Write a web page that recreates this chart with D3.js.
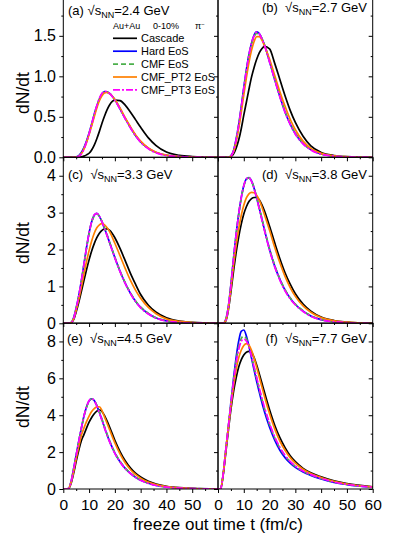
<!DOCTYPE html>
<html><head><meta charset="utf-8">
<script src="https://cdn.jsdelivr.net/npm/d3@7"></script>
<style>
body{margin:0;background:#fff;}
svg{display:block;font-family:"Liberation Sans",Arial,sans-serif;}
</style>
</head><body>
<svg id="chart" width="415" height="537"></svg>
<script>
// ---------------- DATA ----------------
const times = [0,1,2,3,4,5,6,7,8,9,10,11,12,13,14,15,16,17,18,20,22,24,26,28,30,33,36,40,45,50,60];
const seriesNames = ["Cascade","Hard EoS","CMF EoS","CMF_PT2 EoS","CMF_PT3 EoS"];
const panelTags = ["(a)","(b)","(c)","(d)","(e)","(f)"];
const energies = ["2.4","2.7","3.3","3.8","4.5","7.7"];
const xTickValues = [0,10,20,30,40,50,60];
const xMinorValues = [5,15,25,35,45,55];
const yTickRows = [[0,0.5,1,1.5],[0,1,2,3,4],[0,2,4,6,8]];
const yMinorRows = [[0.25,0.75,1.25,1.75],[0.5,1.5,2.5,3.5],[1,3,5,7]];
const yMaxRows = [2.05,4.5,9];

// one array per series, one sub-array per panel (a..f)
const cascade = [
 [0,0,0,0,0,0,0,0.005,0.015,0.03,0.05,0.09,0.15,0.23,0.32,0.42,0.51,0.59,0.65,0.705,0.70,0.645,0.56,0.465,0.37,0.24,0.145,0.065,0.025,0.01,0],
 [0,0,0,0,0,0.01,0.04,0.11,0.21,0.35,0.52,0.68,0.84,0.99,1.11,1.21,1.29,1.34,1.37,1.34,1.16,0.96,0.76,0.58,0.43,0.26,0.14,0.06,0.022,0.008,0],
 [0,0,0,0.01,0.10,0.31,0.57,0.86,1.16,1.45,1.72,1.96,2.16,2.32,2.44,2.52,2.56,2.56,2.52,2.32,2.03,1.70,1.36,1.06,0.78,0.49,0.30,0.15,0.06,0.025,0],
 [0,0,0,0.06,0.35,0.85,1.40,1.90,2.33,2.68,2.96,3.16,3.30,3.38,3.41,3.41,3.35,3.22,3.05,2.63,2.18,1.75,1.37,1.06,0.80,0.52,0.33,0.17,0.075,0.035,0],
 [0,0,0.01,0.30,0.85,1.50,2.10,2.62,2.95,3.30,3.62,3.88,4.08,4.22,4.29,4.20,3.98,3.68,3.35,2.64,2.03,1.53,1.15,0.86,0.65,0.42,0.27,0.15,0.07,0.032,0],
 [0,0,0.75,1.95,3.15,4.30,5.25,6.00,6.60,7.00,7.27,7.42,7.46,7.40,7.12,6.72,6.25,5.76,5.26,4.30,3.46,2.78,2.24,1.80,1.48,1.12,0.88,0.66,0.44,0.29,0.12]
];
const hardEoS = [
 [0,0,0,0,0,0.005,0.02,0.06,0.12,0.20,0.30,0.41,0.53,0.63,0.72,0.78,0.81,0.805,0.79,0.71,0.60,0.48,0.37,0.27,0.19,0.11,0.06,0.025,0.01,0.004,0],
 [0,0,0,0,0,0.02,0.08,0.22,0.40,0.62,0.86,1.08,1.27,1.41,1.51,1.55,1.53,1.47,1.39,1.18,0.96,0.75,0.56,0.41,0.29,0.17,0.095,0.04,0.015,0.006,0],
 [0,0,0,0.02,0.15,0.42,0.75,1.15,1.60,2.05,2.45,2.75,2.93,2.98,2.90,2.75,2.57,2.38,2.18,1.78,1.41,1.09,0.82,0.60,0.43,0.26,0.145,0.065,0.025,0.01,0],
 [0,0,0,0.10,0.45,1.05,1.75,2.40,2.95,3.40,3.73,3.91,3.95,3.86,3.66,3.40,3.12,2.83,2.54,2.00,1.55,1.19,0.90,0.68,0.51,0.33,0.20,0.10,0.045,0.02,0],
 [0,0,0.02,0.40,1.10,1.85,2.60,3.30,3.95,4.45,4.78,4.89,4.80,4.52,4.15,3.75,3.33,2.93,2.57,1.95,1.48,1.12,0.85,0.64,0.48,0.31,0.20,0.11,0.05,0.025,0],
 [0,0,0.80,2.10,3.35,4.70,5.95,7.10,8.00,8.55,8.62,8.30,7.75,7.10,6.45,5.82,5.25,4.70,4.20,3.35,2.65,2.10,1.70,1.40,1.17,0.92,0.74,0.55,0.36,0.24,0.10]
];
const cmfEoS = [
 [0,0,0,0,0,0.003,0.015,0.05,0.11,0.19,0.29,0.40,0.52,0.63,0.72,0.78,0.81,0.805,0.785,0.71,0.60,0.48,0.37,0.27,0.19,0.11,0.06,0.025,0.01,0.004,0],
 [0,0,0,0,0,0.015,0.07,0.20,0.38,0.60,0.84,1.06,1.25,1.40,1.49,1.53,1.52,1.47,1.39,1.19,0.97,0.76,0.57,0.42,0.30,0.175,0.10,0.042,0.016,0.006,0],
 [0,0,0,0.015,0.13,0.40,0.73,1.13,1.58,2.03,2.43,2.74,2.92,2.97,2.90,2.76,2.58,2.39,2.19,1.79,1.42,1.10,0.83,0.61,0.44,0.27,0.15,0.067,0.026,0.01,0],
 [0,0,0,0.09,0.43,1.02,1.72,2.37,2.93,3.38,3.71,3.90,3.94,3.86,3.67,3.42,3.14,2.85,2.56,2.02,1.57,1.20,0.91,0.69,0.52,0.34,0.21,0.105,0.047,0.021,0],
 [0,0,0.02,0.38,1.07,1.82,2.57,3.27,3.92,4.42,4.76,4.88,4.80,4.54,4.18,3.78,3.37,2.97,2.60,1.98,1.50,1.14,0.87,0.66,0.50,0.32,0.21,0.115,0.052,0.026,0],
 [0,0,0.80,2.10,3.35,4.65,5.85,6.90,7.70,8.15,8.30,8.15,7.75,7.20,6.60,6.00,5.42,4.88,4.38,3.50,2.78,2.22,1.80,1.48,1.23,0.96,0.77,0.57,0.38,0.25,0.10]
];
const cmfPT2 = [
 [0,0,0,0,0,0.002,0.012,0.045,0.10,0.18,0.28,0.39,0.50,0.61,0.70,0.76,0.795,0.80,0.785,0.715,0.61,0.49,0.38,0.28,0.20,0.115,0.062,0.026,0.01,0.004,0],
 [0,0,0,0,0,0.015,0.065,0.18,0.35,0.55,0.77,0.98,1.17,1.32,1.43,1.49,1.49,1.45,1.38,1.21,1.01,0.81,0.63,0.47,0.34,0.20,0.11,0.048,0.018,0.007,0],
 [0,0,0,0.015,0.12,0.36,0.65,0.98,1.33,1.67,1.97,2.23,2.44,2.59,2.67,2.70,2.67,2.59,2.48,2.17,1.83,1.49,1.17,0.90,0.68,0.43,0.26,0.12,0.05,0.02,0],
 [0,0,0,0.08,0.40,0.95,1.55,2.10,2.55,2.92,3.20,3.40,3.51,3.55,3.54,3.47,3.34,3.16,2.95,2.52,2.06,1.64,1.27,0.97,0.73,0.47,0.30,0.155,0.068,0.03,0],
 [0,0,0.02,0.35,0.95,1.65,2.30,2.90,3.30,3.65,3.95,4.20,4.36,4.45,4.46,4.25,3.90,3.55,3.20,2.50,1.90,1.42,1.06,0.79,0.59,0.38,0.24,0.13,0.06,0.028,0],
 [0,0,0.78,2.05,3.30,4.50,5.55,6.45,7.10,7.52,7.78,7.88,7.80,7.52,7.10,6.60,6.07,5.55,5.03,4.08,3.26,2.60,2.10,1.70,1.40,1.07,0.84,0.62,0.41,0.27,0.11]
];
const cmfPT3 = [
 [0,0,0,0,0,0.002,0.01,0.04,0.10,0.19,0.29,0.41,0.53,0.64,0.73,0.79,0.815,0.81,0.785,0.705,0.595,0.475,0.365,0.265,0.185,0.105,0.055,0.022,0.009,0.003,0],
 [0,0,0,0,0,0.015,0.075,0.21,0.39,0.61,0.85,1.07,1.26,1.41,1.50,1.545,1.525,1.465,1.385,1.175,0.955,0.745,0.555,0.405,0.285,0.165,0.09,0.038,0.014,0.005,0],
 [0,0,0,0.01,0.12,0.40,0.74,1.15,1.60,2.05,2.45,2.76,2.94,2.98,2.90,2.75,2.56,2.37,2.17,1.77,1.40,1.08,0.81,0.59,0.42,0.25,0.14,0.062,0.024,0.009,0],
 [0,0,0,0.08,0.42,1.02,1.73,2.39,2.95,3.40,3.73,3.92,3.95,3.85,3.65,3.39,3.10,2.81,2.52,1.98,1.53,1.17,0.88,0.66,0.50,0.32,0.19,0.095,0.043,0.019,0],
 [0,0,0.015,0.36,1.05,1.82,2.58,3.30,3.95,4.45,4.80,4.90,4.79,4.50,4.12,3.72,3.30,2.90,2.54,1.93,1.46,1.10,0.84,0.63,0.47,0.30,0.19,0.105,0.048,0.024,0],
 [0,0,0.80,2.10,3.35,4.60,5.80,6.80,7.55,8.00,8.13,8.02,7.70,7.20,6.62,6.05,5.48,4.94,4.44,3.56,2.83,2.26,1.83,1.50,1.25,0.97,0.78,0.58,0.38,0.25,0.10]
];
const allSeries = [cascade, hardEoS, cmfEoS, cmfPT2, cmfPT3];

// ---------------- LAYOUT / STYLE ----------------
const styles = [
  {color:"#000000", dash:null},
  {color:"#0000ff", dash:null},
  {color:"#4cb04c", dash:"5,3"},
  {color:"#ff8000", dash:null},
  {color:"#ff00ff", dash:"7,2,2,2"}
];
const colX = [63.3, 218];
const panelW = 154.7;
const rowBottom = [157.3, 323.3, 489];
const panelH = 166;
const labelPos = [[68,15,"start"],[367,12,"end"],[68,179,"start"],[367,179,"end"],[67,343,"start"],[367,343,"end"]];
const yTitleY = [93, 243, 407];

const svg = d3.select("#chart");
svg.append("rect").attr("width",415).attr("height",537).attr("fill","#fff");

const defs = svg.append("defs");

function styleAxis(g, fs){
  g.select(".domain").remove();
  g.selectAll(".tick line").attr("stroke","#000").attr("stroke-width",1);
  g.selectAll(".tick text").attr("fill","#000").attr("font-size",fs)
    .attr("font-family",'"Liberation Sans",Arial,sans-serif');
}

for (let p = 0; p < 6; p++) {
  const row = Math.floor(p/2), col = p % 2;
  const x0 = colX[col], x1 = x0 + panelW;
  const yb = rowBottom[row], yt = yb - panelH;
  const x = d3.scaleLinear().domain([0,60]).range([x0, x1]);
  const y = d3.scaleLinear().domain([0, yMaxRows[row]]).range([yb, yt]);

  defs.append("clipPath").attr("id","clip"+p)
    .append("rect").attr("x",x0).attr("y",yt).attr("width",panelW).attr("height",panelH);

  const g = svg.append("g");
  const line = d3.line().x((d,i)=>x(times[i])).y(d=>y(d)).curve(d3.curveMonotoneX);

  const lg = g.append("g").attr("clip-path","url(#clip"+p+")");
  allSeries.forEach((s, si) => {
    lg.append("path").datum(s[p])
      .attr("d", line)
      .attr("fill","none")
      .attr("stroke", styles[si].color)
      .attr("stroke-width",1.7)
      .attr("stroke-dasharray", styles[si].dash)
      .attr("stroke-linejoin","round");
  });

  // frame
  g.append("rect").attr("x",x0).attr("y",yt).attr("width",panelW).attr("height",panelH)
    .attr("fill","none").attr("stroke","#000").attr("stroke-width",1);

  // top ticks (inward)
  const topMaj = g.append("g").attr("transform",`translate(0,${yt})`)
    .call(d3.axisBottom(x).tickValues(xTickValues).tickSize(4).tickFormat(""));
  styleAxis(topMaj, 0);
  const topMin = g.append("g").attr("transform",`translate(0,${yt})`)
    .call(d3.axisBottom(x).tickValues(xMinorValues).tickSize(2).tickFormat(""));
  styleAxis(topMin, 0);

  // right ticks (inward)
  const rMaj = g.append("g").attr("transform",`translate(${x1},0)`)
    .call(d3.axisLeft(y).tickValues(yTickRows[row]).tickSize(4).tickFormat(""));
  styleAxis(rMaj, 0);
  const rMin = g.append("g").attr("transform",`translate(${x1},0)`)
    .call(d3.axisLeft(y).tickValues(yMinorRows[row]).tickSize(2).tickFormat(""));
  styleAxis(rMin, 0);

  // left axis with labels (left column only)
  if (col === 0) {
    const fmt = row === 0 ? d3.format(".1f") : d3.format("d");
    const lMaj = g.append("g").attr("transform",`translate(${x0},0)`)
      .call(d3.axisLeft(y).tickValues(yTickRows[row]).tickSize(4).tickPadding(3.3).tickFormat(fmt));
    styleAxis(lMaj, 16);
    const lMin = g.append("g").attr("transform",`translate(${x0},0)`)
      .call(d3.axisLeft(y).tickValues(yMinorRows[row]).tickSize(2).tickFormat(""));
    styleAxis(lMin, 0);

    g.append("text")
      .attr("transform",`translate(29,${yTitleY[row]}) rotate(-90)`)
      .attr("text-anchor","middle").attr("font-size",17.5).attr("fill","#000")
      .text("dN/dt");
  }

  // bottom axis with labels (bottom row only)
  if (row === 2) {
    const fmtX = d => (col === 0 && d === 60) ? "" : d3.format("d")(d);
    const bMaj = g.append("g").attr("transform",`translate(0,${yb})`)
      .call(d3.axisBottom(x).tickValues(xTickValues).tickSize(4).tickPadding(6).tickFormat(fmtX));
    styleAxis(bMaj, 15.5);
    const bMin = g.append("g").attr("transform",`translate(0,${yb})`)
      .call(d3.axisBottom(x).tickValues(xMinorValues).tickSize(2).tickFormat(""));
    styleAxis(bMin, 0);
  }

  // panel label
  const lp = labelPos[p];
  const sep = p === 0 ? " " : "\u00a0\u00a0";
  const t = g.append("text").attr("x",lp[0]).attr("y",lp[1])
    .attr("text-anchor",lp[2]).attr("font-size",13).attr("fill","#000");
  t.append("tspan").text(panelTags[p] + sep + "\u221as");
  t.append("tspan").attr("font-size",9).attr("dy",3).text("NN");
  t.append("tspan").attr("dy",-3).text("=" + energies[p] + " GeV");
}

// legend in panel (a)
const leg = svg.append("g");
const head = leg.append("text").attr("y",29).attr("font-size",9).attr("fill","#000");
head.append("tspan").attr("x",113).text("Au+Au");
head.append("tspan").attr("x",153).text("0-10%");
head.append("tspan").attr("x",195).text("\u03c0");
head.append("tspan").attr("font-size",6).attr("dy",-3).text("\u2212");

seriesNames.forEach((name, i) => {
  const ly = 38.3 + i * 12.9;
  leg.append("line").attr("x1",113).attr("x2",137).attr("y1",ly).attr("y2",ly)
    .attr("stroke",styles[i].color).attr("stroke-width",1.7)
    .attr("stroke-dasharray",styles[i].dash);
  leg.append("text").attr("x",141).attr("y",ly+4).attr("font-size",11).attr("fill","#000").text(name);
});

// x title
svg.append("text").attr("x",218).attr("y",530).attr("text-anchor","middle")
  .attr("font-size",17).attr("fill","#000").text("freeze out time t (fm/c)");
</script>
</body></html>
